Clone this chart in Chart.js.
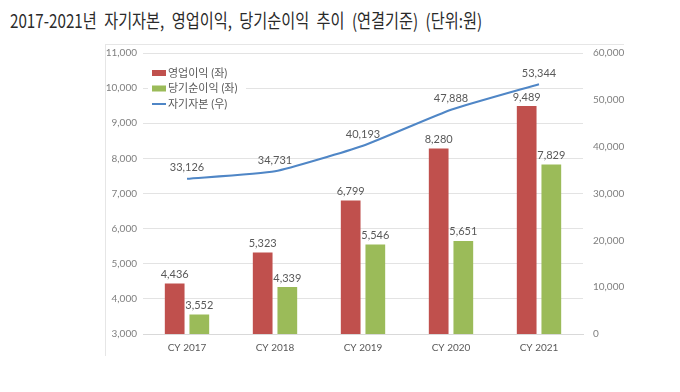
<!DOCTYPE html>
<html><head><meta charset="utf-8">
<script src="https://cdn.jsdelivr.net/npm/chart.js@4/dist/chart.umd.min.js"></script>
<style>
html,body{margin:0;padding:0;background:#fff;width:680px;height:392px;overflow:hidden;}
#title{position:absolute;left:10px;top:6px;font-family:"Noto Sans CJK KR","Noto Sans",sans-serif;font-size:19px;font-weight:400;color:#2a2a2a;white-space:nowrap;word-spacing:5px;transform-origin:0 0;transform:scaleX(0.8);}
#frame{position:absolute;left:105px;top:44px;width:518px;height:311px;border-left:1px solid #e6e6e6;border-top:1px solid #e6e6e6;}
#c{position:absolute;left:0;top:0;}
</style></head>
<body>
<div id="title">2017-2021년 자기자본, 영업이익, 당기순이익 추이 (연결기준) (단위:원)</div>
<div id="frame"></div>
<canvas id="c" width="680" height="392"></canvas>
<script>
const categories = ['CY 2017','CY 2018','CY 2019','CY 2020','CY 2021'];
const operatingProfit = [4436, 5323, 6799, 8280, 9489];
const netIncome = [3552, 4339, 5546, 5651, 7829];
const equity = [33126, 34731, 40193, 47888, 53344];
const seriesNames = ['영업이익 (좌)', '당기순이익 (좌)', '자기자본 (우)'];
const leftTicks = [3000, 4000, 5000, 6000, 7000, 8000, 9000, 10000, 11000];
const rightTicks = [0, 10000, 20000, 30000, 40000, 50000, 60000];

const FONT = 'Lato, "Noto Sans CJK KR", sans-serif';
const fmt = v => v.toLocaleString('en-US');

const labelPlugin = {
  id: 'valueLabels',
  afterDatasetsDraw(chart) {
    const ctx = chart.ctx;
    ctx.save();
    ctx.font = '11px ' + FONT;
    ctx.fillStyle = '#595959';
    ctx.textAlign = 'center';
    ctx.textBaseline = 'middle';
    chart.data.datasets.forEach((ds, i) => {
      const meta = chart.getDatasetMeta(i);
      meta.data.forEach((el, j) => {
        const off = ds.type === 'line' ? 11 : 9;
        ctx.fillText(fmt(ds.data[j]), el.x, el.y - off);
      });
    });
    ctx.restore();
  }
};

const legendPlugin = {
  id: 'insideLegend',
  afterDraw(chart) {
    const ctx = chart.ctx;
    ctx.save();
    const x0 = 152, y0 = 73, dy = 15.5;
    ctx.fillStyle = '#fff';
    ctx.fillRect(148, 64, 98, 47);
    ctx.font = '11px ' + FONT;
    ctx.textBaseline = 'middle';
    ctx.textAlign = 'left';
    chart.data.datasets.forEach((ds, i) => {
      const y = y0 + i * dy;
      if (ds.type === 'line') {
        ctx.strokeStyle = ds.borderColor;
        ctx.lineWidth = 2;
        ctx.beginPath(); ctx.moveTo(x0, y); ctx.lineTo(x0 + 14, y); ctx.stroke();
      } else {
        ctx.fillStyle = ds.backgroundColor;
        ctx.fillRect(x0, y - 3, 14, 6);
      }
      ctx.fillStyle = '#595959';
      ctx.fillText(ds.label, x0 + 16, y);
    });
    ctx.restore();
  }
};

new Chart(document.getElementById('c'), {
  data: {
    labels: categories,
    datasets: [
      { type: 'bar', label: seriesNames[0], data: operatingProfit, backgroundColor: '#c0504d', yAxisID: 'yL', order: 2,
        categoryPercentage: 0.56, barPercentage: 0.8 },
      { type: 'bar', label: seriesNames[1], data: netIncome, backgroundColor: '#9bbb59', yAxisID: 'yL', order: 2,
        categoryPercentage: 0.56, barPercentage: 0.8 },
      { type: 'line', label: seriesNames[2], data: equity, borderColor: '#4f86c6', backgroundColor: '#4f86c6', borderWidth: 2,
        pointRadius: 0, tension: 0.15, yAxisID: 'yR', order: 0 }
    ]
  },
  options: {
    responsive: false,
    animation: false,
    devicePixelRatio: 1,
    layout: { padding: { left: 0, right: 0, top: 53, bottom: 28 } },
    plugins: { legend: { display: false }, tooltip: { enabled: false }, title: { display: false } },
    scales: {
      x: {
        grid: { display: false, drawTicks: false },
        border: { display: true, color: '#d9d9d9' },
        ticks: { color: '#595959', font: { family: FONT, size: 10 }, padding: 8 },
        afterFit(s) { s.height = 30; }
      },
      yL: {
        position: 'left', min: 3000, max: 11000,
        afterBuildTicks(s) { s.ticks = leftTicks.map(v => ({ value: v })); },
        grid: { color: '#e3e3e3', drawTicks: false },
        border: { display: false },
        ticks: { color: '#7f7f7f', font: { family: FONT, size: 10 }, padding: 6, callback: v => fmt(v) },
        afterFit(s) { s.width = 143; }
      },
      yR: {
        position: 'right', min: 0, max: 60000,
        afterBuildTicks(s) { s.ticks = rightTicks.map(v => ({ value: v })); },
        grid: { display: false, drawTicks: false },
        border: { display: false },
        ticks: { color: '#7f7f7f', font: { family: FONT, size: 10 }, padding: 10, callback: v => fmt(v) },
        afterFit(s) { s.width = 97; }
      }
    }
  },
  plugins: [labelPlugin, legendPlugin]
});
</script>
</body></html>
